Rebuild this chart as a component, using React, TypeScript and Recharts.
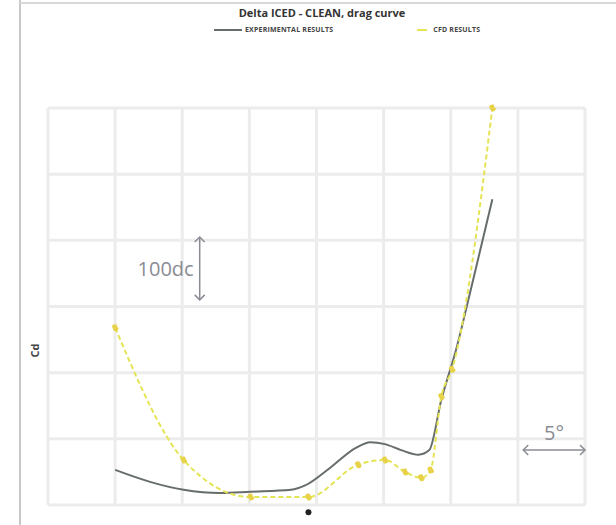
import { LineChart, Line, XAxis, YAxis, CartesianGrid, ReferenceLine, ReferenceDot } from 'recharts';

// angle of attack (deg) and drag (drag counts)
const expAlpha = [-15, -12.4, -9.9, -7.2, -4.9, -1.9, -0.8, 1.0, 2.9, 4.0, 5.1, 6.3, 7.6, 8.4, 9.3, 10.4, 11.5, 13.1];
const expDrag = [53, 35, 23, 18, 20, 23, 30, 56, 86, 95, 92, 83, 76, 83, 159, 235, 326, 462];

const cfdAlpha = [-15, -9.9, -4.9, -0.6, 3.1, 5.1, 6.6, 7.8, 8.5, 9.3, 10.1, 13.1];
const cfdDrag = [268, 68, 12, 12, 61, 68, 50, 41, 53, 164, 205, 600];

const xTicks = [-20, -15, -10, -5, 0, 5, 10, 15, 20];
const yTicks = [0, 100, 200, 300, 400, 500, 600];

const expData = expAlpha.map((x, i) => ({ x, exp: expDrag[i] }));
const cfdData = cfdAlpha.map((x, i) => ({ x, cfd: cfdDrag[i] }));

const GRAY = '#676c6c';
const YELLOW = '#e4e455';
const NOTE = '#8a8c94';

function ArrowLine(props: any) {
  const { x1, y1, x2, y2 } = props;
  const vertical = Math.abs(x1 - x2) < 1;
  const h = 5;
  const heads = vertical
    ? [
        `M${x1 - h},${Math.min(y1, y2) + h} L${x1},${Math.min(y1, y2)} L${x1 + h},${Math.min(y1, y2) + h}`,
        `M${x1 - h},${Math.max(y1, y2) - h} L${x1},${Math.max(y1, y2)} L${x1 + h},${Math.max(y1, y2) - h}`,
      ]
    : [
        `M${Math.min(x1, x2) + h},${y1 - h} L${Math.min(x1, x2)},${y1} L${Math.min(x1, x2) + h},${y1 + h}`,
        `M${Math.max(x1, x2) - h},${y1 - h} L${Math.max(x1, x2)},${y1} L${Math.max(x1, x2) - h},${y1 + h}`,
      ];
  return (
    <g stroke={NOTE} strokeWidth={1.5} fill="none">
      <line x1={x1} y1={y1} x2={x2} y2={y2} />
      {heads.map((d) => (
        <path key={d} d={d} />
      ))}
    </g>
  );
}

const legendText = { fontSize: 7, fontWeight: 700, color: '#444', letterSpacing: 0.2 };

export default function App() {
  return (
    <div style={{ position: 'absolute', left: 0, top: 0, width: 616, height: 525, background: '#fff', fontFamily: 'Open Sans, sans-serif' }}>
      <div style={{ position: 'absolute', left: 19, top: 0, width: 2, height: 525, background: '#c8c8c8' }} />
      <div style={{ position: 'absolute', left: 20, top: 2, width: 596, height: 2, background: '#d8d8d8' }} />
      <div style={{ position: 'absolute', left: 0, width: 616, top: 5, textAlign: 'center', fontSize: 11, fontWeight: 700, color: '#333', paddingLeft: 14 }}>
        Delta ICED - CLEAN, drag curve
      </div>
      <div style={{ position: 'absolute', left: 214, top: 25, display: 'flex', alignItems: 'center' }}>
        <div style={{ width: 28, height: 2, background: GRAY, marginRight: 3 }} />
        <span style={legendText}>EXPERIMENTAL RESULTS</span>
        <div style={{ width: 10, height: 2, background: YELLOW, marginLeft: 84, marginRight: 6 }} />
        <span style={legendText}>CFD RESULTS</span>
      </div>
      <div style={{ position: 'absolute', left: 28, top: 343, fontSize: 11, fontWeight: 700, color: '#444', transform: 'rotate(-90deg)' }}>
        Cd
      </div>
      <LineChart width={616} height={525} data={expData} margin={{ top: 108, right: 31, left: 48, bottom: 20 }} style={{ position: 'absolute', left: 0, top: 0 }}>
        <CartesianGrid stroke="#ececec" strokeWidth={3} />
        <XAxis type="number" dataKey="x" domain={[-20, 20]} ticks={xTicks} hide />
        <YAxis type="number" domain={[0, 600]} ticks={yTicks} hide />
        <Line
          name="EXPERIMENTAL RESULTS"
          data={expData}
          dataKey="exp"
          type="monotone"
          stroke={GRAY}
          strokeWidth={2}
          dot={false}
          isAnimationActive={false}
        />
        <Line
          name="CFD RESULTS"
          data={cfdData}
          dataKey="cfd"
          type="monotone"
          stroke={YELLOW}
          strokeWidth={2}
          strokeDasharray="5 3"
          dot={{ r: 2.5, fill: '#e8d24a', stroke: '#e8d24a' }}
          isAnimationActive={false}
        />
        <ReferenceLine
          segment={[{ x: -8.7, y: 310 }, { x: -8.7, y: 405 }]}
          shape={ArrowLine}
          ifOverflow="visible"
          label={{ value: '100dc', position: 'left', fill: NOTE, fontSize: 20, offset: 6 }}
        />
        <ReferenceLine
          segment={[{ x: 15.4, y: 83 }, { x: 20, y: 83 }]}
          shape={ArrowLine}
          ifOverflow="visible"
          label={{ value: '5°', position: 'top', fill: NOTE, fontSize: 20, offset: 10 }}
        />
        <ReferenceDot x={-0.6} y={-11} r={3} fill="#222" stroke="none" ifOverflow="visible" />
      </LineChart>
    </div>
  );
}
